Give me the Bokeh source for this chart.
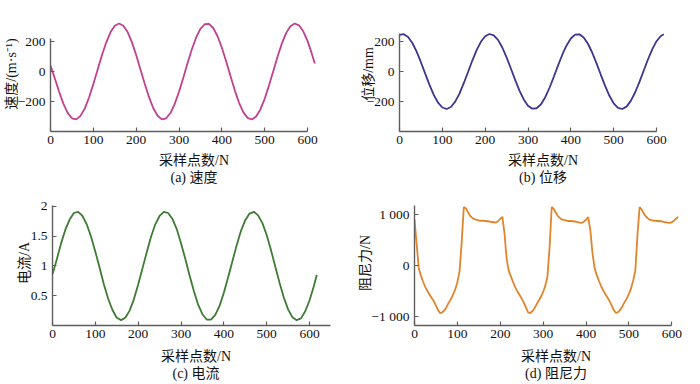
from bokeh.plotting import figure
from bokeh.layouts import column, row
from bokeh.models import Range1d, FixedTicker, LinearAxis
from bokeh.embed import file_html
from bokeh.resources import INLINE

# ---------------- data ----------------
sample_idx = list(range(0, 611, 10)) + [617]

velocity = [40, -45, -133, -214, -276, -312, -319, -296, -247, -173,
            -84, 12, 108, 193, 261, 305, 320, 305, 263, 196,
            110, 14, -82, -171, -245, -295, -319, -312, -277, -216,
            -135, -42, 56, 148, 227, 284, 315, 317, 290, 235,
            159, 68, -29, -124, -207, -271, -309, -320, -300, -253,
            -182, -94, 2, 98, 186, 256, 302, 320, 308, 268,
            204, 119, 53]

displacement = [244, 249, 230, 190, 132, 62, -14, -89, -156, -208,
                -240, -250, -237, -201, -147, -78, -3, 73, 142, 198,
                235, 250, 241, 211, 160, 94, 20, -56, -127, -186,
                -228, -248, -245, -220, -173, -110, -37, 39, 112, 174,
                220, 246, 248, 227, 185, 125, 54, -22, -96, -162,
                -212, -242, -250, -234, -196, -140, -71, 5, 80, 148,
                202, 237, 248]

current = [0.86, 1.11, 1.38, 1.61, 1.78, 1.89, 1.91, 1.84, 1.70, 1.49,
           1.24, 0.97, 0.69, 0.45, 0.26, 0.13, 0.09, 0.13, 0.25, 0.44,
           0.69, 0.96, 1.23, 1.49, 1.70, 1.84, 1.91, 1.89, 1.79, 1.62,
           1.38, 1.12, 0.84, 0.58, 0.35, 0.19, 0.10, 0.10, 0.18, 0.33,
           0.55, 0.81, 1.08, 1.35, 1.59, 1.77, 1.88, 1.91, 1.85, 1.72,
           1.52, 1.27, 0.99, 0.72, 0.47, 0.27, 0.14, 0.09, 0.12, 0.24,
           0.42, 0.66, 0.85]

force_idx = list(range(0, 616, 5))
force = [910, 420, -60, -200, -320, -420, -500, -570, -640, -700,
         -790, -880, -940, -920, -880, -810, -730, -660, -570, -470,
         -330, -120, 450, 1150, 1120, 1040, 975, 935, 910, 895,
         885, 880, 880, 875, 870, 865, 855, 850, 845, 870,
         920, 955, 620, 120, -110, -220, -330, -430, -510, -580,
         -650, -730, -830, -920, -935, -900, -840, -760, -690, -610,
         -520, -400, -220, 350, 1150, 1110, 1030, 965, 925, 900,
         890, 880, 875, 875, 870, 865, 855, 845, 840, 860,
         900, 950, 700, 250, -50, -190, -300, -400, -490, -560,
         -630, -700, -790, -880, -935, -915, -870, -800, -720, -650,
         -560, -450, -300, -100, 600, 1150, 1100, 1020, 960, 920,
         895, 885, 880, 875, 875, 870, 860, 850, 845, 840,
         850, 880, 920, 955]

x_ticks = [0, 100, 200, 300, 400, 500, 600]
vel_ticks = [-200, 0, 200]
vel_labels = {-200: "\u2212200", 0: "0", 200: "200"}
disp_ticks = [-200, 0, 200]
disp_labels = {-200: "\u2212200", 0: "0", 200: "200"}
cur_ticks = [0.5, 1, 1.5, 2]
cur_labels = {0.5: "0.5", 1: "1", 1.5: "1.5", 2: "2"}
force_ticks = [-1000, 0, 1000]
force_labels = {-1000: "\u22121 000", 0: "0", 1000: "1 000"}

x_title = "采样点数/N"

FONT = "'Liberation Serif', 'Noto Sans CJK SC'"
AXIS_COLOR = "#5e5e5e"
TEXT_COLOR = "#111111"


def title_axis(bounds, text, standoff):
    ax = LinearAxis(ticker=FixedTicker(ticks=[]), bounds=bounds,
                    axis_label=text, axis_label_standoff=standoff,
                    axis_label_text_font=FONT, axis_label_text_font_size="14px",
                    axis_label_text_font_style="normal",
                    axis_label_text_color=TEXT_COLOR,
                    axis_line_color=None, major_tick_line_color=None,
                    minor_tick_line_color=None, major_label_standoff=0,
                    major_tick_in=0, major_tick_out=0,
                    minor_tick_in=0, minor_tick_out=0)
    return ax


def panel(xs, ys, color, width, height, xr, yr, borders, xbounds, ybounds,
          yticks, ylabels, ytitle, ytitle_bounds, ytitle_standoff,
          xtitle_bounds, caption, caption_bounds, s1, s2):
    mbl, mbr, mbt, mbb = borders
    p = figure(width=width, height=height,
               x_range=Range1d(*xr), y_range=Range1d(*yr),
               output_backend="svg", toolbar_location=None,
               min_border_left=mbl, min_border_right=mbr,
               min_border_top=mbt, min_border_bottom=mbb)
    p.title.visible = False
    p.outline_line_color = None
    p.xgrid.visible = False
    p.ygrid.visible = False
    p.background_fill_color = "white"
    p.border_fill_color = "white"

    p.line(xs, ys, line_color=color, line_width=1.8)

    for ax in (p.xaxis[0], p.yaxis[0]):
        ax.axis_line_color = AXIS_COLOR
        ax.axis_line_width = 1.4
        ax.major_tick_line_color = AXIS_COLOR
        ax.major_tick_line_width = 1.2
        ax.major_tick_in = 4
        ax.major_tick_out = 0
        ax.minor_tick_line_color = None
        ax.major_label_text_font = FONT
        ax.major_label_text_font_size = "13.5px"
        ax.major_label_text_color = TEXT_COLOR

    p.xaxis.ticker = FixedTicker(ticks=x_ticks)
    p.xaxis.bounds = xbounds
    p.xaxis.major_label_standoff = 4
    p.yaxis.ticker = FixedTicker(ticks=yticks)
    p.yaxis.bounds = ybounds
    p.yaxis.major_label_standoff = 5
    p.yaxis.major_label_overrides = ylabels

    p.add_layout(title_axis(ytitle_bounds, ytitle, ytitle_standoff), "left")
    p.add_layout(title_axis(xtitle_bounds, x_title, s1), "below")
    p.add_layout(title_axis(caption_bounds, caption, s2), "below")
    return p


pa = panel(sample_idx, velocity, "#c1408f", 350, 192, (0, 670), (-400, 366.7),
           (50, 13, 16, 61), (0, 600), (-400, 217),
           vel_ticks, vel_labels, "速度/(m·s⁻¹)", (-146.7, 53.3), -4,
           (0, 670), "(a) 速度", (4, 670), 6, -1)

pb = panel(sample_idx, displacement, "#3d3590", 350, 192, (0, 670), (-400, 366.7),
           (49, 14, 16, 61), (0, 600), (-400, 255),
           disp_ticks, disp_labels, "位移/mm", (-97, 103), -12,
           (14, 670), "(b) 位移", (2, 670), 6, -1)

pc = panel(sample_idx, current, "#3e7b32", 350, 192, (0, 670), (0, 2.1),
           (52, 11, 8, 58), (0, 650), (0, 2.02),
           cur_ticks, cur_labels, "电流/A", (0.305, 1.305), -4,
           (0, 664), "(c) 电流", (0, 662), 8, -1)

pd_ = panel(force_idx, force, "#e0852c", 350, 192, (0, 660), (-1180, 1278),
            (64, 3, 8, 59), (0, 600), (-1180, 1175),
            force_ticks, force_labels, "阻尼力/N", (-500, 500), -4,
            (8, 660), "(d) 阻尼力", (0, 646), 8, -1)

layout = column(row(pa, pb), row(pc, pd_))

with open("out.html", "w") as f:
    f.write(file_html(layout, INLINE))
